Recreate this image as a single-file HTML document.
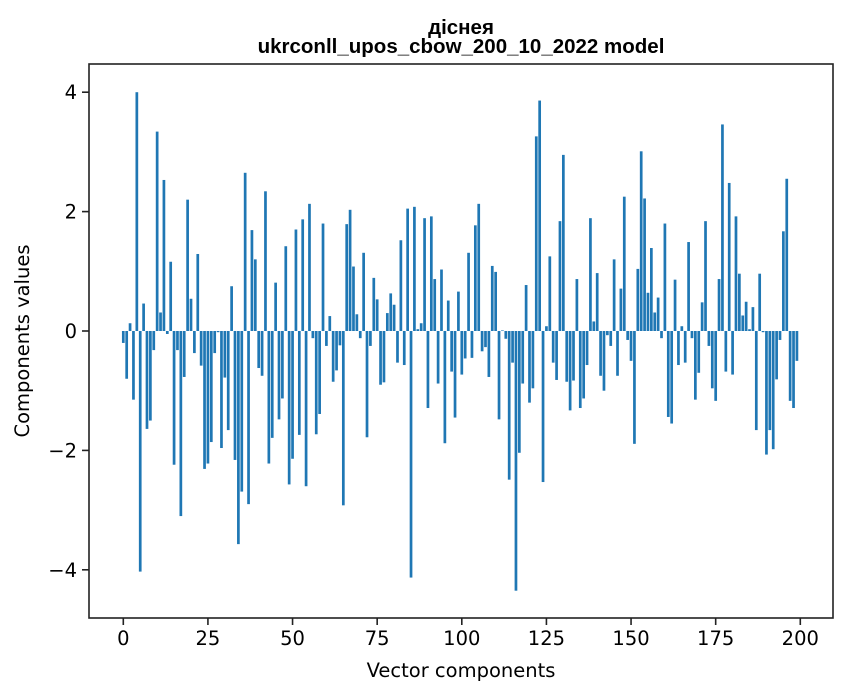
<!DOCTYPE html>
<html><head><meta charset="utf-8"><style>
html,body{margin:0;padding:0;background:#fff;}
svg{display:block;}
</style></head><body>
<svg id="chart" width="847" height="696" viewBox="0 0 847 696" xmlns="http://www.w3.org/2000/svg">
<rect x="0" y="0" width="847" height="696" fill="#fff"/>
<text x="461" y="34" text-anchor="middle" font-family="Liberation Sans, sans-serif" font-weight="bold" font-size="20.5">дiснея</text>
<text x="461" y="53" text-anchor="middle" font-family="Liberation Sans, sans-serif" font-weight="bold" font-size="20.5">ukrconll_upos_cbow_200_10_2022 model</text>
<g id="bars"></g>
<g id="axes"></g>
<rect x="89" y="64" width="744" height="554" fill="none" stroke="#222" stroke-width="1.6"/>
<text x="461" y="677" text-anchor="middle" font-family="DejaVu Sans, sans-serif" font-size="19.5">Vector components</text>
<text transform="translate(29,341) rotate(-90)" text-anchor="middle" font-family="DejaVu Sans, sans-serif" font-size="19.5">Components values</text>
</svg>
<script>
const values = [
-0.2,-0.8,0.13,-1.15,4.0,-4.03,0.46,-1.64,-1.5,-0.32,
3.34,0.31,2.53,-0.05,1.16,-2.24,-0.32,-3.1,-0.77,2.2,
0.54,-0.37,1.29,-0.58,-2.31,-2.22,-1.86,-0.37,-0.02,-1.96,
-0.78,-1.66,0.75,-2.16,-3.57,-2.69,2.65,-2.9,1.69,1.2,
-0.62,-0.75,2.34,-2.22,-1.79,0.81,-1.48,-1.13,1.42,-2.57,
-2.14,1.7,-1.74,1.87,-2.6,2.13,-0.12,-1.73,-1.39,1.8,
-0.25,0.25,-0.85,-0.66,-0.24,-2.92,1.79,2.03,1.08,0.28,
-0.12,1.31,-1.78,-0.25,0.89,0.53,-0.9,-0.86,0.3,0.63,
0.44,-0.53,1.52,-0.57,2.05,-4.13,2.08,0.03,0.13,1.89,
-1.29,1.92,0.87,-0.88,1.03,-1.88,0.51,-0.68,-1.45,0.66,
-0.73,-0.46,1.31,-0.45,1.77,2.13,-0.34,-0.27,-0.77,1.09,
0.99,-1.48,0.01,-0.13,-2.49,-0.53,-4.35,-2.04,-0.88,0.77,
-1.2,-0.96,3.26,3.86,-2.53,0.08,1.25,-0.53,-0.82,1.84,
2.95,-0.85,-1.33,-0.83,0.87,-1.29,-1.13,-0.57,1.89,0.16,
0.97,-0.75,-1.0,-0.07,-0.25,1.2,-0.75,0.71,2.25,-0.15,
-0.5,-1.89,1.04,3.01,2.22,0.64,1.39,0.31,0.56,-0.12,
1.8,-1.44,-1.55,0.86,-0.57,0.08,-0.53,1.49,-0.12,-1.15,
-0.7,0.48,1.84,-0.25,-0.96,-1.17,0.87,3.46,-0.68,2.48,
-0.73,1.92,0.96,0.26,0.49,0.03,0.4,-1.66,0.96,-0.02,
-2.07,-1.66,-1.98,-0.81,-0.15,1.67,2.55,-1.17,-1.29,-0.5
];
const xTicks = [0,25,50,75,100,125,150,175,200];
const yTicks = [-4,-2,0,2,4];
const NS = 'http://www.w3.org/2000/svg';
function xScale(v){ return 123.3 + 3.385*v; }
function yScale(v){ return 331 - 59.7*v; }
const barG = document.getElementById('bars');
values.forEach(function(v,i){
  const r = document.createElementNS(NS,'rect');
  
  
  const x0 = xScale(i-0.4), x1 = xScale(i+0.4);
  const y0 = yScale(Math.max(v,0)), y1 = yScale(Math.min(v,0));
  r.setAttribute('x', x0);
  r.setAttribute('width', x1-x0);
  r.setAttribute('y', y0);
  r.setAttribute('height', Math.max(y1-y0,0.3));
  r.setAttribute('fill', '#1f77b4');
  barG.appendChild(r);
});
const axG = document.getElementById('axes');
xTicks.forEach(function(t){
  const x = xScale(t);
  const l = document.createElementNS(NS,'line');
  
  
  l.setAttribute('x1',x); l.setAttribute('x2',x);
  l.setAttribute('y1',618); l.setAttribute('y2',625);
  l.setAttribute('stroke','#222'); l.setAttribute('stroke-width','1.6');
  axG.appendChild(l);
  const tx = document.createElementNS(NS,'text');
  
  
  tx.setAttribute('x',x); tx.setAttribute('y',645);
  tx.setAttribute('text-anchor','middle');
  tx.setAttribute('font-family','DejaVu Sans, sans-serif');
  tx.setAttribute('font-size','19.5');
  tx.textContent = String(t);
  axG.appendChild(tx);
});
yTicks.forEach(function(t){
  const y = yScale(t);
  const l = document.createElementNS(NS,'line');
  
  
  l.setAttribute('x1',82); l.setAttribute('x2',89);
  l.setAttribute('y1',y); l.setAttribute('y2',y);
  l.setAttribute('stroke','#222'); l.setAttribute('stroke-width','1.6');
  axG.appendChild(l);
  const tx = document.createElementNS(NS,'text');
  
  
  tx.setAttribute('x',77); tx.setAttribute('y',y+7);
  tx.setAttribute('text-anchor','end');
  tx.setAttribute('font-family','DejaVu Sans, sans-serif');
  tx.setAttribute('font-size','19.5');
  tx.textContent = t < 0 ? '\u2212' + Math.abs(t) : String(t);
  axG.appendChild(tx);
});
</script>
</body></html>
